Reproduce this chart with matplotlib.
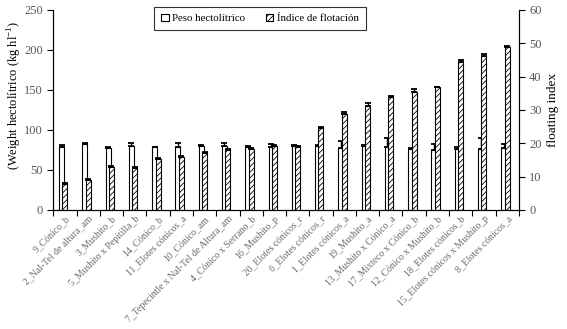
import numpy as np
import matplotlib
matplotlib.use('Agg')
import matplotlib.pyplot as plt

plt.rcParams.update({
    'font.family': 'Liberation Serif',
    'hatch.linewidth': 0.6,
    'mathtext.fontset': 'custom',
    'mathtext.rm': 'Liberation Serif',
})

categories = [
    '9_Cónico_b', '2_Nal-Tel de altura_am', '3_Mushito_b', '5_Mushito x Pepitilla_b',
    '14_Cónico_b', '11_Elotes cónicos_a', '10_Cónico_am',
    '7_Tepecintle x Nal-Tel de Altura_am', '4_Cónico x Serrano_b', '16_Mushito_p',
    '20_Elotes cónicos_r', '6_Elotes cónicos_r', '1_Elotes cónicos_a', '19_Mushito_a',
    '13_Mushito x Cónico_a', '17_Mixteco x Cónico_b', '12_Cónico x Mushito_b',
    '18_Elotes cónicos_b', '15_Elotes cónicos x Mushito_p', '8_Elotes cónicos_a',
]
peso = [79, 82, 77, 80, 78, 79, 80, 80, 79, 79, 80, 80, 77, 80, 78, 76, 75, 76, 76, 77]
peso_err = [2, 1, 1, 4, 1, 4, 1.5, 3, 0.5, 3.5, 1.5, 1.5, 9, 1.5, 12, 1, 7, 2.5, 14, 5]
flot = [7.7, 9.0, 13.0, 12.7, 15.4, 16.0, 17.0, 17.9, 18.3, 19.2, 19.0, 24.6, 28.9, 31.2,
        34.0, 35.5, 36.8, 44.3, 46.2, 49.0]
flot_err = [0.3, 0.4, 0.3, 0.2, 0.2, 0.3, 0.3, 0.3, 0.2, 0.3, 0.3, 0.2, 0.4, 0.8,
            0.3, 0.7, 0.2, 0.6, 0.5, 0.3]

gray = '#595959'
x = np.arange(len(categories))
w = 0.215

fig = plt.figure(figsize=(5.67, 3.29), dpi=100)
ax = fig.add_axes([0.094, 0.362, 0.821, 0.608])
ax2 = ax.twinx()

ax.bar(x - 0.145, peso, w, color='white', edgecolor='black', linewidth=0.8,
       label='Peso hectolítrico', zorder=2)
ax.errorbar(x - 0.145, peso, yerr=[np.zeros(len(peso)), peso_err], fmt='none',
            ecolor='black', elinewidth=1, capsize=2.5, capthick=1.3, zorder=3)
ax2.bar(x, flot, w, color='white', edgecolor='black', linewidth=0.8,
        hatch='//////', label='Índice de flotación', zorder=2)
ax2.errorbar(x, flot, yerr=[np.zeros(len(flot)), flot_err], fmt='none',
             ecolor='black', elinewidth=1, capsize=2.5, capthick=1.3, zorder=3)

ax.set_xlim(-0.5, len(categories) - 0.5)
ax.set_ylim(0, 250)
ax2.set_ylim(0, 60)
ax.set_yticks(range(0, 251, 50))
ax2.set_yticks(range(0, 61, 10))

ax.set_xticks(np.arange(len(categories) + 1) - 0.5)
ax.set_xticklabels([])
ax.set_xticks(x, minor=True)
ax.set_xticklabels(categories, minor=True, rotation=45, ha='right',
                   rotation_mode='anchor', fontsize=7, color='#6a6a6a')
ax.tick_params(axis='x', which='minor', length=0, pad=3)
ax.tick_params(axis='x', which='major', length=4, direction='out')
ax.tick_params(axis='y', labelsize=9, labelcolor=gray, length=4, direction='out')
ax2.tick_params(axis='y', labelsize=9, labelcolor=gray, length=4, direction='out')

for a in (ax, ax2):
    a.spines['top'].set_visible(False)

ax.set_ylabel('(Weight hectolítrico (kg hl$^{-1}$)', fontsize=9)
ax.yaxis.set_label_coords(-0.062, 0.57)
ax2.set_ylabel('floating index', fontsize=9.5)

h1, l1 = ax.get_legend_handles_labels()
h2, l2 = ax2.get_legend_handles_labels()
leg = ax.legend(h1 + h2, l1 + l2, ncol=2, loc='upper center',
                bbox_to_anchor=(0.444, 1.015), borderaxespad=0, fontsize=7.8,
                fancybox=False, edgecolor='black', handlelength=0.7,
                handleheight=0.6, handletextpad=0.3, columnspacing=1.9,
                borderpad=0.65)
leg.get_frame().set_linewidth(0.8)

fig.savefig('out.png', dpi=100)
